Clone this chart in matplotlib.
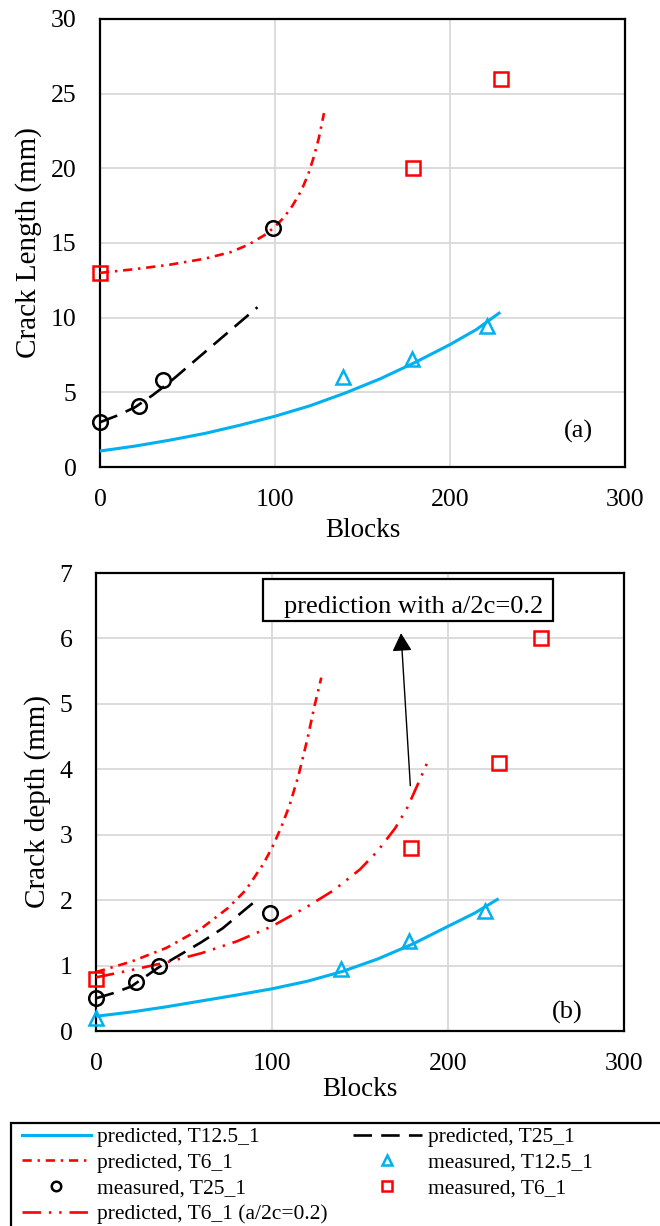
import matplotlib.pyplot as plt
from matplotlib.patches import Rectangle
from matplotlib.lines import Line2D

plt.rcParams["font.family"] = ["Liberation Serif", "DejaVu Serif"]

# ========= data: (a) crack length =========
a_t125_pred_x = [0, 20, 40, 60, 80, 100, 120, 140, 160, 180, 200, 215, 228]
a_t125_pred_y = [1.07, 1.4, 1.8, 2.25, 2.8, 3.4, 4.1, 4.95, 5.9, 7.0, 8.2, 9.2, 10.3]
a_t25_pred_x = [0, 10, 20, 30, 40, 50, 60, 70, 80, 90]
a_t25_pred_y = [3.0, 3.45, 4.0, 4.8, 5.7, 6.7, 7.7, 8.7, 9.7, 10.7]
a_t6_pred_x = [0, 20, 40, 60, 75, 85, 95, 100, 105, 110, 115, 119, 122, 125, 128]
a_t6_pred_y = [13.0, 13.25, 13.55, 13.95, 14.4, 14.9, 15.6, 16.1, 16.7, 17.5, 18.5,
               19.6, 20.7, 22.0, 23.7]

a_t125_meas_x = [139, 178, 221]
a_t125_meas_y = [6.0, 7.26, 9.45]
a_t25_meas_x = [0, 22, 36, 99]
a_t25_meas_y = [3.0, 4.1, 5.8, 16.0]
a_t6_meas_x = [0, 179, 229]
a_t6_meas_y = [13.0, 20.0, 26.0]

# ========= data: (b) crack depth =========
b_t125_pred_x = [0, 20, 40, 60, 80, 100, 120, 140, 160, 180, 200, 215, 228]
b_t125_pred_y = [0.225, 0.29, 0.37, 0.46, 0.55, 0.645, 0.76, 0.91, 1.1, 1.33, 1.6, 1.8, 2.01]
b_t25_pred_x = [0, 10, 20, 36, 50, 60, 72, 84, 93]
b_t25_pred_y = [0.5, 0.58, 0.68, 0.98, 1.2, 1.36, 1.57, 1.84, 2.04]
b_t6_pred_x = [0, 20, 40, 60, 75, 85, 95, 100, 105, 110, 115, 120, 124, 128]
b_t6_pred_y = [0.9, 1.06, 1.27, 1.57, 1.88, 2.15, 2.55, 2.8, 3.1, 3.45, 3.9, 4.45, 4.95, 5.4]
b_t6_02_pred_x = [0, 20, 40, 60, 80, 100, 120, 135, 150, 160, 170, 177, 183, 189]
b_t6_02_pred_y = [0.82, 0.93, 1.05, 1.19, 1.37, 1.6, 1.9, 2.15, 2.47, 2.75, 3.1, 3.42, 3.78, 4.15]

b_t125_meas_x = [0, 139, 178, 221]
b_t125_meas_y = [0.2, 0.95, 1.37, 1.84]
b_t25_meas_x = [0, 23, 36, 99]
b_t25_meas_y = [0.5, 0.75, 1.0, 1.8]
b_t6_meas_x = [0, 179, 229, 253]
b_t6_meas_y = [0.8, 2.8, 4.1, 6.0]

x_ticks = [0, 100, 200, 300]
a_y_ticks = [0, 5, 10, 15, 20, 25, 30]
b_y_ticks = [0, 1, 2, 3, 4, 5, 6, 7]

# ========= styles =========
CYAN = "#00B0F0"
RED = "#FF0000"
LW = 1.9
dash_t25 = (7, 3.5)
dash_t6 = (3.5, 2.2, 0.9, 2.2)
dash_t6_02 = (7, 3, 0.9, 3, 0.9, 3)
MS = 10.5
MEW = 1.8


def style_axes(ax, yticks, ylabel, xpad, xlabelpad):
    ax.set_xlim(0, 300)
    ax.set_ylim(yticks[0], yticks[-1])
    ax.set_xticks(x_ticks)
    ax.set_yticks(yticks)
    ax.grid(True, color="#d9d9d9", linewidth=1.3)
    ax.set_axisbelow(True)
    for s in ax.spines.values():
        s.set_linewidth(1.6)
        s.set_color("black")
    ax.tick_params(axis="x", length=0, pad=xpad, labelsize=18.5)
    ax.tick_params(axis="y", length=0, pad=17, labelsize=18.5)
    ax.set_xlabel("Blocks", fontsize=19.5, labelpad=xlabelpad)
    ax.set_ylabel(ylabel, fontsize=21, labelpad=6)


def draw_measured(ax, tx, ty, cx, cy, sx, sy):
    ax.plot(tx, ty, ls="none", marker="^", ms=MS, mfc="none", mec=CYAN, mew=MEW, clip_on=False, zorder=4)
    ax.plot(cx, cy, ls="none", marker="o", ms=MS, mfc="none", mec="black", mew=MEW, clip_on=False, zorder=4)
    ax.plot(sx, sy, ls="none", marker="s", ms=MS, mfc="none", mec=RED, mew=MEW, clip_on=False, zorder=4)


fig = plt.figure(figsize=(6.6, 12.26), dpi=100)

# ---- (a) ----
ax1 = fig.add_axes([100 / 660, (1226 - 467) / 1226, 525 / 660, 448 / 1226])
ax1.plot(a_t125_pred_x, a_t125_pred_y, color=CYAN, lw=2.2, zorder=3)
ax1.plot(a_t25_pred_x, a_t25_pred_y, color="black", lw=LW, dashes=dash_t25, zorder=3)
ax1.plot(a_t6_pred_x, a_t6_pred_y, color=RED, lw=LW, dashes=dash_t6, zorder=3)
draw_measured(ax1, a_t125_meas_x, a_t125_meas_y, a_t25_meas_x, a_t25_meas_y, a_t6_meas_x, a_t6_meas_y)
style_axes(ax1, a_y_ticks, "Crack Length (mm)", 16, 5)
ax1.text(273.5, 2.35, "(a)", fontsize=19, ha="center", va="center")

# ---- (b) ----
ax2 = fig.add_axes([96 / 660, (1226 - 1031) / 1226, 528 / 660, 458 / 1226])
ax2.plot(b_t125_pred_x, b_t125_pred_y, color=CYAN, lw=2.2, zorder=3)
ax2.plot(b_t25_pred_x, b_t25_pred_y, color="black", lw=LW, dashes=dash_t25, zorder=3)
ax2.plot(b_t6_pred_x, b_t6_pred_y, color=RED, lw=LW, dashes=dash_t6, zorder=3)
ax2.plot(b_t6_02_pred_x, b_t6_02_pred_y, color=RED, lw=LW, dashes=dash_t6_02, zorder=3)
draw_measured(ax2, b_t125_meas_x, b_t125_meas_y, b_t25_meas_x, b_t25_meas_y, b_t6_meas_x, b_t6_meas_y)
style_axes(ax2, b_y_ticks, "Crack depth (mm)", 15.5, 2)
ax2.text(268, 0.29, "(b)", fontsize=19, ha="center", va="center")

# annotation box + arrow
ax2.add_patch(Rectangle((94.9, 6.27), 165, 0.64, facecolor="white", edgecolor="black", lw=1.6, zorder=5))
ax2.text(254, 6.39, "prediction with a/2c=0.2", fontsize=19, ha="right", va="baseline", zorder=6)
ax2.annotate("", xy=(173.3, 6.08), xytext=(178.6, 3.75),
             arrowprops=dict(arrowstyle="-|>,head_length=0.55,head_width=0.3",
                             color="black", lw=1, mutation_scale=20, shrinkA=0, shrinkB=0),
             zorder=6)

# ---- legend ----
h_t125 = Line2D([], [], color=CYAN, lw=2.2)
h_t25 = Line2D([], [], color="black", lw=LW, dashes=dash_t25)
h_t6 = Line2D([], [], color=RED, lw=LW, dashes=dash_t6)
h_t6_02 = Line2D([], [], color=RED, lw=LW, dashes=dash_t6_02)
m_t125 = Line2D([], [], ls="none", marker="^", ms=MS, mfc="none", mec=CYAN, mew=MEW)
m_t25 = Line2D([], [], ls="none", marker="o", ms=MS, mfc="none", mec="black", mew=MEW)
m_t6 = Line2D([], [], ls="none", marker="s", ms=MS, mfc="none", mec=RED, mew=MEW)

handles = [h_t125, h_t6, m_t25, h_t6_02, h_t25, m_t125, m_t6]
labels = ["predicted, T12.5_1", "predicted, T6_1", "measured, T25_1",
          "predicted, T6_1 (a/2c=0.2)", "predicted, T25_1", "measured, T12.5_1",
          "measured, T6_1"]
fig.legend(handles, labels, loc="upper left", bbox_to_anchor=(22 / 660, 1 - 1127 / 1226),
           ncol=2, frameon=False, fontsize=15.5, borderpad=0, borderaxespad=0,
           handlelength=3.2, handletextpad=0.3, columnspacing=1.15,
           labelspacing=0.26, markerscale=0.65)
fig.add_artist(Rectangle((11 / 660, -0.05), 1.1, 0.05 + (1226 - 1123) / 1226,
                         transform=fig.transFigure, fill=False, edgecolor="black", lw=1.6))

fig.savefig("out.png", dpi=100)
